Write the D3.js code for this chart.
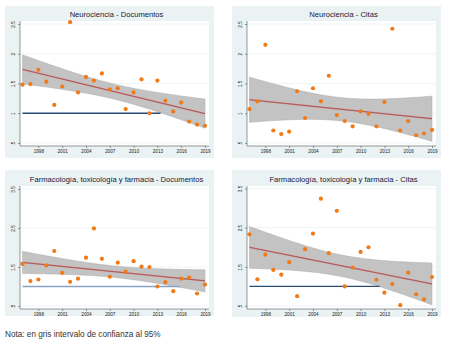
<!DOCTYPE html>
<html>
<head>
<meta charset="utf-8">
<script src="https://cdnjs.cloudflare.com/ajax/libs/d3/7.8.5/d3.min.js"></script>
<style>
  body { margin: 0; background: #fff; }
  svg { display: block; font-family: "Liberation Sans", Arial, sans-serif; }
</style>
</head>
<body>
<svg id="chart" width="450" height="343"></svg>
<script>
'use strict';
// years 1996..2019
const years = d3.range(1996, 2020);

const neuroDocs = [1.48, 1.49, 1.73, 1.53, 1.14, 1.45, 2.53, 1.35, 1.61, 1.55, 1.67, 1.40,
  1.42, 1.07, 1.35, 1.57, 1.00, 1.55, 1.21, 1.03, 1.18, 0.86, 0.81, 0.79];
const neuroCitas = [1.07, 1.20, 2.15, 0.71, 0.65, 0.69, 1.37, 0.92, 1.42, 1.20, 1.63, 0.97,
  0.87, 0.78, 1.03, 0.99, 0.78, 1.19, 2.42, 0.71, 0.87, 0.63, 0.66, 0.72];
const farmaDocs = [1.58, 1.14, 1.18, 1.54, 1.91, 1.35, 1.12, 1.20, 1.74, 2.49, 1.71, 1.25,
  1.61, 1.38, 1.65, 1.51, 1.50, 1.00, 1.11, 0.88, 1.20, 1.23, 0.82, 1.05];
const farmaCitas = [2.33, 1.18, 1.81, 1.42, 1.30, 1.62, 0.75, 1.95, 2.35, 3.24, 1.85, 2.93,
  1.00, 1.48, 1.88, 2.00, 1.17, 0.84, 1.06, 0.52, 1.35, 0.80, 0.67, 1.24];

const titles = ["Neurociencia - Documentos", "Neurociencia - Citas",
  "Farmacología, toxicología y farmacia - Documentos", "Farmacología, toxicología y farmacia - Citas"];
const xTicks = [1998, 2001, 2004, 2007, 2010, 2013, 2016, 2019];
const yTicksNeuro = [0.5, 1, 1.5, 2, 2.5];
const yTicksFarma = [0.5, 1.5, 2.5, 3.5];
const yTickLabelsNeuro = [".5", "1", "1.5", "2", "2.5"];
const yTickLabelsFarma = [".5", "1.5", "2.5", "3.5"];
// reference line y = 1, drawn between these years (none in panel 2)
const refLineEnd = [2013.4, null, 2015.8, 2012.4];

const note = "Nota: en gris intervalo de confianza al 95%";

// panel layout
const panels = [
  { values: neuroDocs, ox: 5, oy: 6, h: 152, top: 15, bottom: 140, yTop: 18, ticks: yTicksNeuro, labels: yTickLabelsNeuro, ref: "#2b4b78" },
  { values: neuroCitas, ox: 232, oy: 6, h: 152, top: 15, bottom: 140, yTop: 18, ticks: yTicksNeuro, labels: yTickLabelsNeuro, ref: null },
  { values: farmaDocs, ox: 5, oy: 170, h: 146, top: 16, bottom: 139, yTop: 19, ticks: yTicksFarma, labels: yTickLabelsFarma, ref: "#86a5c6" },
  { values: farmaCitas, ox: 232, oy: 170, h: 147, top: 16, bottom: 139, yTop: 18.5, ticks: yTicksFarma, labels: yTickLabelsFarma, ref: "#2b4b78" }
];

const svg = d3.select("#chart");

function linFit(xs, ys) {
  const n = xs.length;
  const mx = d3.mean(xs), my = d3.mean(ys);
  let sxx = 0, sxy = 0;
  xs.forEach((x, i) => { sxx += (x - mx) * (x - mx); sxy += (x - mx) * (ys[i] - my); });
  const b = sxy / sxx, a = my - b * mx;
  let sse = 0;
  xs.forEach((x, i) => { const r = ys[i] - (a + b * x); sse += r * r; });
  const s = Math.sqrt(sse / (n - 2));
  const t = 2.074; // t(0.975, 22)
  return x => {
    const yhat = a + b * x;
    const se = s * Math.sqrt(1 / n + (x - mx) * (x - mx) / sxx);
    return { x: x, y: yhat, lo: yhat - t * se, hi: yhat + t * se };
  };
}

panels.forEach((p, i) => {
  const g = svg.append("g").attr("transform", `translate(${p.ox},${p.oy})`);
  g.append("rect").attr("width", 209).attr("height", p.h).attr("fill", "#eaf2f3");

  const left = 15, right = 204;
  const x = d3.scaleLinear().domain([1996, 2019]).range([left + 2.5, left + 185]);
  const ymin = p.ticks[0], ymax = p.ticks[p.ticks.length - 1];
  const y = d3.scaleLinear().domain([ymin, ymax]).range([p.bottom - 3, p.yTop]);

  g.append("rect").attr("x", left).attr("y", p.top)
    .attr("width", right - left).attr("height", p.bottom - p.top).attr("fill", "#fff");

  // grid
  g.selectAll(".grid").data(p.ticks).join("line")
    .attr("x1", left).attr("x2", right)
    .attr("y1", d => y(d)).attr("y2", d => y(d))
    .attr("stroke", "#eaf2f3").attr("stroke-width", 0.8);

  g.append("text").attr("x", (left + right) / 2 + 2).attr("y", p.top - 4)
    .attr("text-anchor", "middle").attr("font-size", 7.6).attr("fill", "#14203a")
    .text(titles[i]);

  // confidence band + fit
  const fit = linFit(years, p.values);
  const grid = d3.range(1996, 2019.001, 0.25).map(fit);
  g.append("path").datum(grid)
    .attr("d", d3.area().x(d => x(d.x)).y0(d => y(d.lo)).y1(d => y(d.hi)))
    .attr("fill", "#c3c3c3").attr("stroke", "#aaaaaa").attr("stroke-width", 0.5);
  g.append("path").datum(grid)
    .attr("d", d3.line().x(d => x(d.x)).y(d => y(d.y)))
    .attr("fill", "none").attr("stroke", "#d39a9a").attr("stroke-width", 1.8);
  g.append("path").datum(grid)
    .attr("d", d3.line().x(d => x(d.x)).y(d => y(d.y)))
    .attr("fill", "none").attr("stroke", "#9c4444").attr("stroke-width", 0.8);

  if (p.ref) {
    g.append("line").attr("x1", x(1996)).attr("x2", x(refLineEnd[i]))
      .attr("y1", y(1)).attr("y2", y(1))
      .attr("stroke", p.ref).attr("stroke-width", 1.3);
  }

  g.selectAll(".pt").data(p.values).join("circle")
    .attr("cx", (d, j) => x(years[j])).attr("cy", d => y(d))
    .attr("r", 2.1).attr("fill", "#f07a18");

  // axes
  const ax = g.append("g").attr("transform", `translate(0,${p.bottom})`)
    .call(d3.axisBottom(x).tickValues(xTicks).tickFormat(d3.format("d")).tickSize(2).tickPadding(2));
  ax.select(".domain").attr("d", `M${left},0H${right}`);
  const ay = g.append("g").attr("transform", `translate(${left},0)`)
    .call(d3.axisLeft(y).tickValues(p.ticks).tickFormat((d, j) => p.labels[j]).tickSize(2).tickPadding(2));
  ay.select(".domain").attr("d", `M0,${p.top}V${p.bottom}`);
  [ax, ay].forEach(a => {
    a.selectAll("path,line").attr("stroke", "#555").attr("stroke-width", 0.6);
    a.selectAll("text").attr("font-size", 4.6).attr("fill", "#222").attr("font-family", "Liberation Sans, Arial, sans-serif");
  });
  ay.selectAll("text").attr("text-anchor", "middle").attr("dy", 0)
    .attr("transform", "translate(-5.5,0) rotate(-90)").attr("x", 0).attr("y", 0);
});

svg.append("text").attr("x", 5).attr("y", 337).attr("font-size", 8.2)
  .attr("fill", "#333").text(note);
</script>
</body>
</html>
